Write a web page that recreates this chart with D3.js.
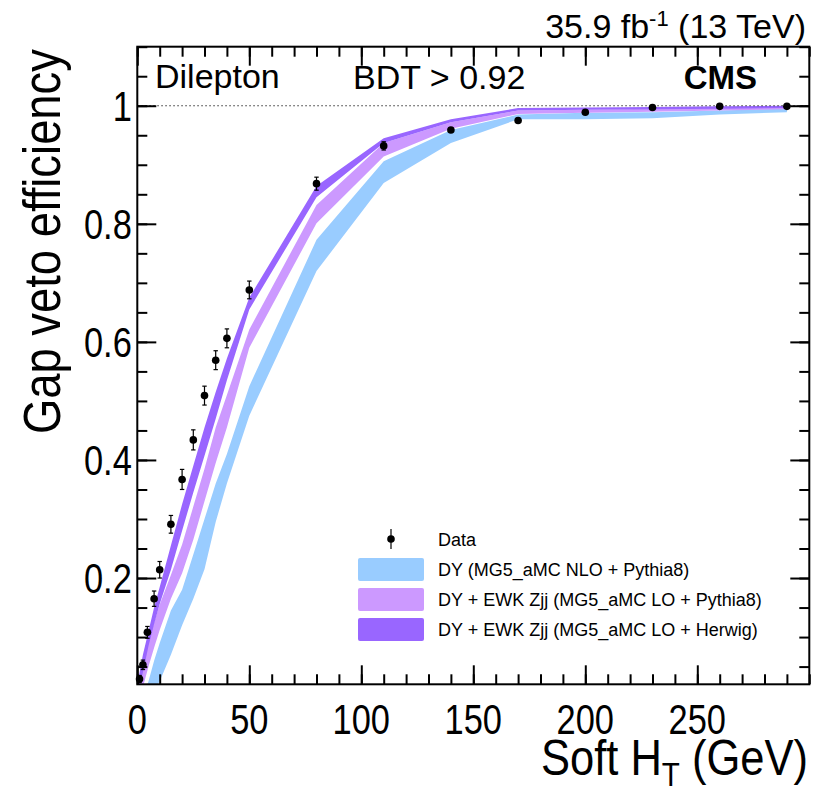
<!DOCTYPE html>
<html>
<head>
<meta charset="utf-8">
<script src="https://cdn.jsdelivr.net/npm/d3@7"></script>
<style>
  body { margin: 0; background: #fff; }
  text { font-family: "Liberation Sans", Arial, Helvetica, sans-serif; fill: #000; }
</style>
</head>
<body>
<div id="chart"></div>
<script>
// Data points (soft HT bin, efficiency, stat. error)
let dataX = [1, 2.5, 4.5, 7.5, 10, 15, 20, 25, 30, 35, 40, 50, 80, 110, 140, 170, 200, 230, 260, 290];
let dataEff = [0.029, 0.053, 0.108, 0.165, 0.214, 0.291, 0.367, 0.434, 0.509, 0.569, 0.606, 0.688, 0.868, 0.932, 0.959, 0.975, 0.989, 0.997, 0.999, 0.999];
let dataErr = [0.006, 0.008, 0.010, 0.013, 0.014, 0.015, 0.017, 0.017, 0.016, 0.016, 0.016, 0.015, 0.011, 0.007, 0.004, 0.003, 0.002, 0.002, 0.001, 0.001];

// Simulation bands, lower and upper edges
let bandX = [0, 2.5, 5, 7.5, 10, 15, 20, 25, 30, 35, 40, 50, 80, 110, 140, 170, 200, 230, 260, 290];
let nloLo = [-0.06, -0.03, 0.0, 0.01, 0.025, 0.07, 0.12, 0.165, 0.215, 0.295, 0.36, 0.475, 0.72, 0.869, 0.937, 0.977, 0.977, 0.979, 0.985, 0.989];
let nloHi = [-0.03, 0.0, 0.025, 0.06, 0.09, 0.145, 0.18, 0.24, 0.30, 0.36, 0.41, 0.525, 0.773, 0.906, 0.959, 0.985, 0.988, 0.989, 0.992, 0.995];
let pyLo = [-0.02, 0.015, 0.05, 0.082, 0.112, 0.165, 0.208, 0.265, 0.33, 0.395, 0.455, 0.59, 0.801, 0.914, 0.961, 0.986, 0.988, 0.990, 0.992, 0.994];
let pyHi = [0.0, 0.045, 0.092, 0.125, 0.155, 0.205, 0.257, 0.321, 0.385, 0.455, 0.51, 0.621, 0.832, 0.937, 0.972, 0.992, 0.993, 0.995, 0.997, 0.998];
let hwLo = [0.0, 0.04, 0.085, 0.122, 0.156, 0.214, 0.28, 0.345, 0.407, 0.47, 0.535, 0.655, 0.845, 0.937, 0.972, 0.992, 0.993, 0.994, 0.995, 0.996];
let hwHi = [0.02, 0.07, 0.11, 0.15, 0.185, 0.255, 0.325, 0.39, 0.455, 0.515, 0.572, 0.675, 0.864, 0.945, 0.977, 0.996, 0.997, 0.998, 0.999, 1.0];

let legendLabels = ["Data", "DY (MG5_aMC NLO + Pythia8)", "DY + EWK Zjj (MG5_aMC LO + Pythia8)", "DY + EWK Zjj (MG5_aMC LO + Herwig)"];
let bandColors = ["#99ccff", "#cc99ff", "#9966ff"];

let xMajor = [0, 50, 100, 150, 200, 250];
let yMajor = [0.2, 0.4, 0.6, 0.8, 1];
let yLabels = ["0.2", "0.4", "0.6", "0.8", "1"];

const W = 818, H = 793;
const fLeft = 137.3, fRight = 809.3, fTop = 46.7, fBottom = 684.3;

let x = d3.scaleLinear().domain([0, 300]).range([fLeft, fRight]);
let y = d3.scaleLinear().domain([0.02, 1.1]).range([fBottom, fTop]);

var svg = d3.select('#chart').append('svg')
            .attr('width', W)
            .attr('height', H);

svg.append('clipPath').attr('id', 'frameClip')
   .append('rect')
   .attr('x', fLeft).attr('y', fTop)
   .attr('width', fRight - fLeft).attr('height', fBottom - fTop);

// Bands
let bands = [
  {lo: nloLo, hi: nloHi, color: bandColors[0]},
  {lo: pyLo, hi: pyHi, color: bandColors[1]},
  {lo: hwLo, hi: hwHi, color: bandColors[2]}
];
let area = d3.area()
             .x(function(d) { return x(d.x); })
             .y0(function(d) { return y(d.lo); })
             .y1(function(d) { return y(d.hi); });

svg.append('g').attr('clip-path', 'url(#frameClip)')
   .selectAll('path')
   .data(bands)
   .enter()
   .append('path')
   .attr('d', function(b) {
     return area(bandX.map(function(v, i) { return {x: v, lo: b.lo[i], hi: b.hi[i]}; }));
   })
   .style('fill', function(b) { return b.color; });

// Dotted line at 1
svg.append('line')
   .attr('x1', x(0)).attr('x2', x(300))
   .attr('y1', y(1)).attr('y2', y(1))
   .style('stroke', '#333')
   .style('stroke-width', 1.2)
   .style('stroke-dasharray', '1.5,2.5');

// Axes: ticks on all four sides, pointing inward
function minorVals(step, lo, hi) {
  let out = [];
  for (let v = lo; v <= hi + 1e-9; v += step) out.push(+v.toFixed(3));
  return out;
}
let xMinor = minorVals(10, 0, 300);
let yMinor = minorVals(0.05, 0.05, 1.1);

function drawAxis(axis, tr) {
  let g = svg.append('g').attr('transform', tr).call(axis);
  g.select('.domain').remove();
  g.selectAll('line').style('stroke', '#000').style('stroke-width', 2);
  return g;
}
drawAxis(d3.axisBottom(x).tickValues(xMinor).tickSize(-10).tickFormat(''), `translate(0,${fBottom})`);
drawAxis(d3.axisBottom(x).tickValues(xMajor).tickSize(-19).tickFormat(''), `translate(0,${fBottom})`);
drawAxis(d3.axisTop(x).tickValues(xMinor).tickSize(-10).tickFormat(''), `translate(0,${fTop})`);
drawAxis(d3.axisTop(x).tickValues(xMajor).tickSize(-19).tickFormat(''), `translate(0,${fTop})`);
drawAxis(d3.axisLeft(y).tickValues(yMinor).tickSize(-10).tickFormat(''), `translate(${fLeft},0)`);
drawAxis(d3.axisLeft(y).tickValues(yMajor).tickSize(-19).tickFormat(''), `translate(${fLeft},0)`);
drawAxis(d3.axisRight(y).tickValues(yMinor).tickSize(-10).tickFormat(''), `translate(${fRight},0)`);
drawAxis(d3.axisRight(y).tickValues(yMajor).tickSize(-19).tickFormat(''), `translate(${fRight},0)`);

// Frame
svg.append('rect')
   .attr('x', fLeft).attr('y', fTop)
   .attr('width', fRight - fLeft).attr('height', fBottom - fTop)
   .style('fill', 'none')
   .style('stroke', '#000')
   .style('stroke-width', 2);

// Text helper, optionally condensed like the ROOT Helvetica
function label(tx, ty, size, anchor, sx, rot) {
  let g = svg.append('g')
             .attr('transform', `translate(${tx},${ty}) rotate(${rot || 0}) scale(${sx},1)`);
  return g.append('text')
          .attr('font-size', size)
          .style('text-anchor', anchor);
}

// Tick labels
xMajor.forEach(function(v) {
  label(x(v), 734, 42, 'middle', 0.82).text(v);
});
yMajor.forEach(function(v, i) {
  label(fLeft - 5.5, y(v) + 15, 42, 'end', 0.82).text(yLabels[i]);
});

// Axis titles
let xt = label(808, 775, 50, 'end', 0.87);
xt.append('tspan').text('Soft H');
xt.append('tspan').attr('font-size', 34).attr('dy', 11).text('T');
xt.append('tspan').attr('dy', -11).text(' (GeV)');

label(60, 49, 51, 'end', 0.89, -90).text('Gap veto efficiency');

// Header labels
let lumi = label(806, 38, 34, 'end', 1);
lumi.append('tspan').text('35.9 fb');
lumi.append('tspan').attr('font-size', 22).attr('dy', -12).text('-1');
lumi.append('tspan').attr('dy', 12).text(' (13 TeV)');

label(155, 88, 34, 'start', 1).text('Dilepton');
label(353, 89, 34, 'start', 1).text('BDT > 0.92');
label(757, 89, 33, 'end', 1).attr('font-weight', 'bold').text('CMS');

// Data points with error bars
let pts = svg.append('g').selectAll('g')
             .data(dataX.map(function(v, i) { return {x: v, y: dataEff[i], e: dataErr[i]}; }))
             .enter()
             .append('g');
pts.append('line')
   .attr('x1', function(d) { return x(d.x); })
   .attr('x2', function(d) { return x(d.x); })
   .attr('y1', function(d) { return y(d.y - d.e); })
   .attr('y2', function(d) { return y(d.y + d.e); })
   .style('stroke', '#000').style('stroke-width', 1.2);
[-1, 1].forEach(function(s) {
  pts.append('line')
     .attr('x1', function(d) { return x(d.x) - 2.2; })
     .attr('x2', function(d) { return x(d.x) + 2.2; })
     .attr('y1', function(d) { return y(d.y + s * d.e); })
     .attr('y2', function(d) { return y(d.y + s * d.e); })
     .style('stroke', '#000').style('stroke-width', 1.2);
});
pts.append('circle')
   .attr('cx', function(d) { return x(d.x); })
   .attr('cy', function(d) { return y(d.y); })
   .attr('r', 3.8)
   .style('fill', '#000');

// Legend
let leg = svg.append('g');
leg.append('line')
   .attr('x1', 391).attr('x2', 391).attr('y1', 529).attr('y2', 549)
   .style('stroke', '#000').style('stroke-width', 1.2);
leg.append('circle').attr('cx', 391).attr('cy', 539).attr('r', 3.8).style('fill', '#000');
leg.selectAll('rect')
   .data(bandColors)
   .enter()
   .append('rect')
   .attr('x', 358)
   .attr('y', function(d, i) { return 558 + i * 30; })
   .attr('width', 66)
   .attr('height', 23)
   .attr('rx', 2)
   .style('fill', function(d) { return d; });
legendLabels.forEach(function(t, i) {
  label(438, 546 + i * 30, 18, 'start', 1).text(t);
});
</script>
</body>
</html>
